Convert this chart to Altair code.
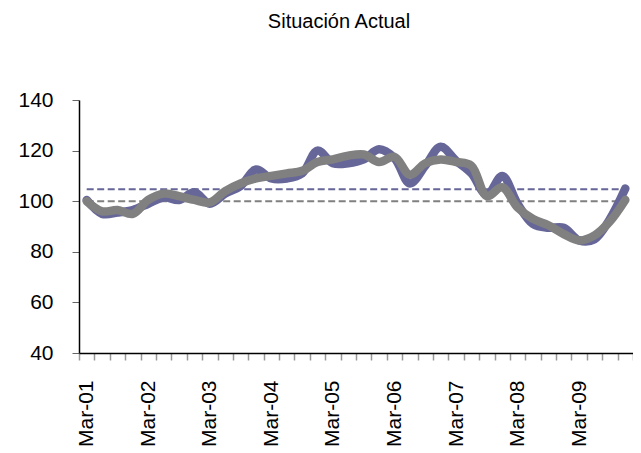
import json
import altair as alt
import pandas as pd

quarters = [
    "Mar-01", "Jun-01", "Sep-01", "Dec-01",
    "Mar-02", "Jun-02", "Sep-02", "Dec-02",
    "Mar-03", "Jun-03", "Sep-03", "Dec-03",
    "Mar-04", "Jun-04", "Sep-04", "Dec-04",
    "Mar-05", "Jun-05", "Sep-05", "Dec-05",
    "Mar-06", "Jun-06", "Sep-06", "Dec-06",
    "Mar-07", "Jun-07", "Sep-07", "Dec-07",
    "Mar-08", "Jun-08", "Sep-08", "Dec-08",
    "Mar-09", "Jun-09", "Sep-09", "Dec-09",
]

blue_values = [
    100.5, 95, 95.5, 96.5,
    99, 101.5, 100.5, 103.5,
    99, 103, 106, 112.5,
    109, 109, 111, 120,
    115, 115, 116.5, 120.5,
    117, 107, 114, 121.5,
    116, 111, 102.5, 110,
    99, 91, 89.5, 89.5,
    84.5, 85, 93, 105,
]

gray_values = [
    100, 96, 96.5, 95,
    100.5, 103, 102, 100.5,
    99.5, 104, 107, 109,
    110, 111, 112, 115.5,
    116.5, 118, 118.5, 115.5,
    117.5, 110.5, 115, 116.5,
    115.5, 114, 102, 105.5,
    97.5, 93, 90.5, 87,
    84.5, 86.5, 92, 100.5,
]

blue_ref = 104.7
gray_ref = 100.0

y_ticks = [40, 60, 80, 100, 120, 140]

n = len(quarters)
df = pd.DataFrame({
    "i": list(range(n)),
    "q": quarters,
    "blue": blue_values,
    "gray": gray_values,
    "blue_ref": [blue_ref] * n,
    "gray_ref": [gray_ref] * n,
})

FONT = "Liberation Sans"
BLUE = "#666699"
GRAY = "#808080"

x_scale = alt.Scale(domain=[-0.5, n - 0.5], nice=False, zero=False)
y_scale = alt.Scale(domain=[40, 140], nice=False, zero=False)

# axis with tick marks at the category boundaries (no labels)
tick_axis = alt.Axis(
    orient="bottom",
    title=None,
    values=[k - 0.5 for k in range(n + 1)],
    labels=False,
    tickSize=7,
    tickColor="#999999",
    tickWidth=1.5,
    domainColor="#000000",
    domainWidth=1.5,
    grid=False,
)

# axis with the category labels at the centres (no ticks)
label_axis = alt.Axis(
    orient="bottom",
    title=None,
    values=list(range(0, n, 4)),
    labelExpr=json.dumps(quarters) + "[datum.value]",
    labelAngle=270,
    labelAlign="right",
    labelBaseline="middle",
    labelFontSize=21,
    labelFont=FONT,
    labelColor="#000000",
    labelPadding=27,
    labelOverlap=False,
    labelFlush=False,
    ticks=False,
    domain=False,
    grid=False,
)

y_axis = alt.Axis(
    title=None,
    values=y_ticks,
    labelFontSize=21,
    labelFont=FONT,
    labelColor="#000000",
    labelPadding=19,
    tickSize=7,
    tickColor="#666666",
    domainColor="#000000",
    domainWidth=1.5,
    grid=False,
)

base = alt.Chart(df)

ref_blue = base.mark_line(color=BLUE, strokeWidth=2, strokeDash=[7, 3.5]).encode(
    x=alt.X("i:Q", scale=x_scale, axis=tick_axis),
    y=alt.Y("blue_ref:Q", scale=y_scale, axis=y_axis),
)

ref_gray = base.mark_line(color=GRAY, strokeWidth=2, strokeDash=[7, 3.5]).encode(
    x=alt.X("i:Q", scale=x_scale, axis=label_axis),
    y=alt.Y("gray_ref:Q", scale=y_scale, axis=y_axis),
)

line_blue = base.mark_line(
    color=BLUE, strokeWidth=8.5, interpolate="catmull-rom",
    strokeCap="round", strokeJoin="round"
).encode(
    x=alt.X("i:Q", scale=x_scale, axis=None),
    y=alt.Y("blue:Q", scale=y_scale, axis=y_axis),
)

line_gray = base.mark_line(
    color=GRAY, strokeWidth=8.5, interpolate="catmull-rom",
    strokeCap="round", strokeJoin="round"
).encode(
    x=alt.X("i:Q", scale=x_scale, axis=None),
    y=alt.Y("gray:Q", scale=y_scale, axis=y_axis),
)

chart = alt.layer(ref_blue, ref_gray, line_blue, line_gray).resolve_axis(
    x="independent"
).properties(
    width=554,
    height=253,
    title=alt.TitleParams(
        "Situación Actual",
        font=FONT,
        fontSize=20,
        fontWeight="normal",
        color="#000000",
        anchor="middle",
        offset=57,
        dx=-17,
    ),
    autosize=alt.AutoSizeParams(type="none"),
    padding={"left": 71, "top": 92, "right": 0, "bottom": 95},
).configure_view(stroke=None)

chart.save("out.html", embed_options={"renderer": "svg", "actions": False})
